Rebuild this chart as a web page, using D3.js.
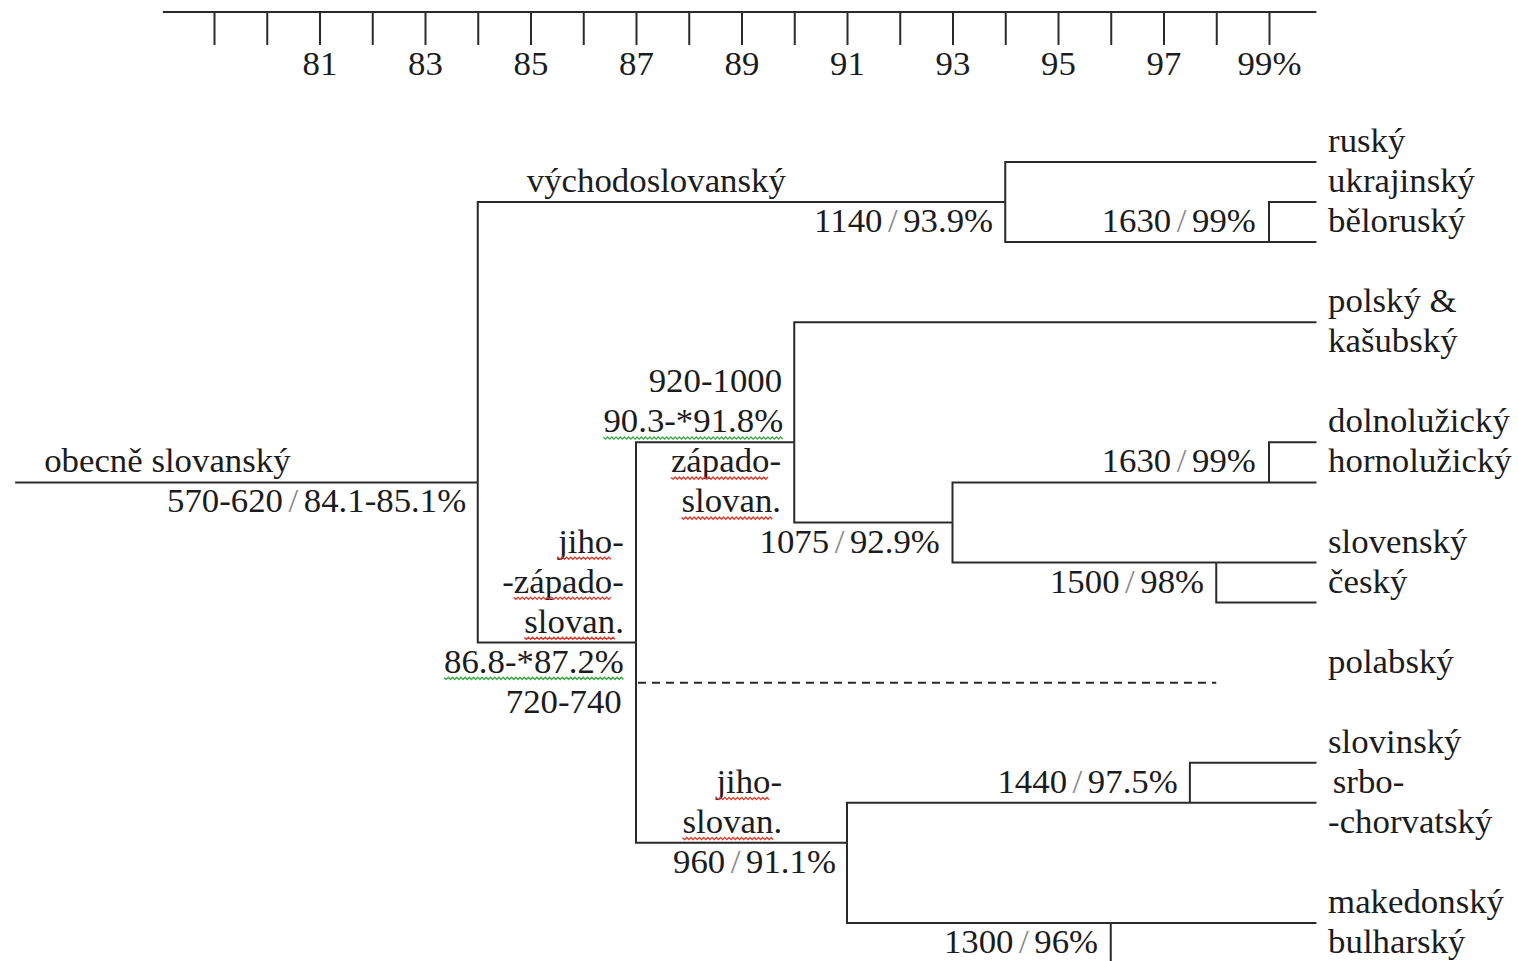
<!DOCTYPE html>
<html><head><meta charset="utf-8">
<script src="https://cdn.jsdelivr.net/npm/d3@7"></script>
<style>
html,body{margin:0;padding:0;background:#fff;}
svg{display:block;}
text{font-family:"Liberation Serif","Times New Roman",serif;font-size:33px;fill:#1c1c1c;}
</style></head>
<body>
<svg id="chart" width="1518" height="961"></svg>
<script>
// ---- axis data ----
const tickValues = [79,80,81,82,83,84,85,86,87,88,89,90,91,92,93,94,95,96,97,98,99];
const tickLabelValues = [81,83,85,87,89,91,93,95,97,99];
const tickLabelTexts = ["81","83","85","87","89","91","93","95","97","99%"];
const axisExtent = [78.03, 99.9];

// ---- tree data (position in % similarity, row index) ----
const nodeIds     = ["root","east","ub","jz","west","luzcs","luz","cs","south","sc","mb",
                     "rusky","ukrajinsky","belorusky","polsky","dolno","horno","slovensky","cesky","polabsky","slovinsky","srbochorv","makedonsky","bulharsky"];
const nodeParents = ["","root","east","root","jz","west","luzcs","luzcs","jz","south","south",
                     "east","ub","ub","west","luz","luz","cs","cs","jz","sc","sc","mb","mb"];
const nodeValues  = [84.0,94.0,99.0,87.0,90.0,93.0,99.0,98.0,91.0,97.5,96.0,
                     99.9,99.9,99.9,99.9,99.9,99.9,99.9,99.9,98.0,99.9,99.9,99.9,99.9];
const nodeRows    = [8,1,2,12,7,9,8,10,17,16,19,
                     0,1,2,4,7,8,10,11,13,15,16,19,20];
const dashedNodes = ["polabsky"];
const rootStart = 75.23;

// ---- leaf labels ----
const leafTexts = ["ruský","ukrajinský","běloruský","polský &","kašubský","dolnolužický","hornolužický","slovenský","český","polabský","slovinský","srbo-","-chorvatský","makedonský","bulharský"];
const leafRows  = [0,1,2,4,5,7,8,10,11,13,15,16,17,19,20];
const leafX = 100.12;
const leafIndent = [0,0,0,0,0,0,0,0,0,0,0,0.09,0,0,0];

// ---- inner labels ----
const innerTexts   = ["obecně slovanský","570-620 / 84.1-85.1%","východoslovanský","1140 / 93.9%","1630 / 99%",
                      "920-1000","90.3-*91.8%","západo-","slovan.","1075 / 92.9%","1630 / 99%","1500 / 98%",
                      "jiho-","-západo-","slovan.","86.8-*87.2%","720-740","jiho-","slovan.","960 / 91.1%","1440 / 97.5%","1300 / 96%"];
const innerRows    = [8,9,1,2,2, 6,7,8,9,10,8,11, 10,11,12,13,14,16,17,18,16,20];
const innerX       = [75.78,83.78,84.93,93.77,98.75, 89.77,89.79,89.75,89.75,92.76,98.75,97.77, 86.77,86.77,86.77,86.77,86.73,89.77,89.77,90.79,97.27,95.76];
const innerAnchor  = ["start","end","start","end","end", "end","end","end","end","end","end","end", "end","end","end","end","end","end","end","end","end","end"];
// wavy underline: colour, first char, last char (exclusive)
const waveColor = ["","","","","", "","green","red","red","","","", "red","red","red","green","","red","red","","",""];
const waveFrom  = [0,0,0,0,0, 0,0,0,0,0,0,0, 0,1,0,0,0,0,0,0,0,0];
const waveTo    = [0,0,0,0,0, 0,11,6,6,0,0,0, 4,7,6,11,0,4,6,0,0,0];

const svg = d3.select("#chart");
const x = d3.scaleLinear().domain([79,99]).range([214,1269]);
const y = d3.scaleLinear().domain([0,20]).range([162,963]);
const lineColor = "#2a2a2a";
const baselineOffset = -10;
const stretch = 1.055;

// ---- axis ----
const labelMap = new Map(tickLabelValues.map((v,i)=>[v,tickLabelTexts[i]]));
const axis = d3.axisBottom(x).tickValues(tickValues).tickSize(33).tickPadding(7)
  .tickFormat(d => labelMap.has(d) ? labelMap.get(d) : "");
const gAxis = svg.append("g").attr("transform","translate(0,12)").call(axis);
gAxis.select(".domain").attr("d", `M${x(axisExtent[0])},0H${x(axisExtent[1])}`)
  .attr("stroke", lineColor).attr("stroke-width",2);
gAxis.selectAll(".tick line").attr("stroke", lineColor).attr("stroke-width",2);
gAxis.selectAll(".tick text").attr("font-size",33).attr("font-family",null).attr("fill","#1c1c1c")
  .attr("transform", `scale(${stretch},1)`);

// ---- tree ----
const table = nodeIds.map((id,i)=>({id, parent: nodeParents[i] || null, value: nodeValues[i], row: nodeRows[i]}));
const root = d3.stratify().id(d=>d.id).parentId(d=>d.parent)(table);

const gTree = svg.append("g");
gTree.append("path")
  .attr("d", `M${x(rootStart)},${y(root.data.row)}H${x(root.data.value)}`)
  .attr("fill","none").attr("stroke",lineColor).attr("stroke-width",2);
gTree.selectAll("path.link").data(root.descendants().filter(d=>d.parent))
  .join("path").attr("class","link")
  .attr("d", d => `M${x(d.parent.data.value)},${y(d.parent.data.row)}V${y(d.data.row)}H${x(d.data.value)}`)
  .attr("fill","none").attr("stroke",lineColor).attr("stroke-width",2)
  .attr("stroke-dasharray", d => dashedNodes.includes(d.id) ? "8,6" : null);

// ---- leaf labels ----
svg.append("g").selectAll("g").data(leafTexts).join("g")
  .attr("transform", (d,i)=>`translate(${x(leafX + leafIndent[i])},${y(leafRows[i]) + baselineOffset}) scale(${stretch},1)`)
  .append("text").text(d=>d);

// ---- inner labels ----
function styledText(sel, str){
  const parts = str.split(" / ");
  if(parts.length === 2){
    sel.append("tspan").text(parts[0]);
    sel.append("tspan").attr("letter-spacing",-3).text("\u00a0");
    sel.append("tspan").attr("fill","#8a8a8a").text("/");
    sel.append("tspan").attr("letter-spacing",-3).text("\u00a0");
    sel.append("tspan").text(parts[1]);
  } else sel.text(str);
}
const gInner = svg.append("g");
innerTexts.forEach((t,i)=>{
  const g = gInner.append("g")
    .attr("transform", `translate(${x(innerX[i])},${y(innerRows[i]) + baselineOffset}) scale(${stretch},1)`);
  const el = g.append("text").attr("text-anchor", innerAnchor[i]);
  styledText(el, t);
  if(waveColor[i]){
    const node = el.node();
    const total = node.getComputedTextLength();
    const startX = innerAnchor[i]==="end" ? -total : 0;
    const x0 = startX + (waveFrom[i] ? node.getSubStringLength(0, waveFrom[i]) : 0);
    const x1 = startX + node.getSubStringLength(0, waveTo[i]);
    const yb = 5;
    const p = d3.path();
    p.moveTo(x0, yb);
    let k = 0;
    for(let xx = x0 + 2; xx <= x1; xx += 2, k++){
      p.lineTo(xx, yb + (k % 2 === 0 ? 1.8 : -0.4));
    }
    g.append("path").attr("d", p.toString()).attr("fill","none")
      .attr("stroke", waveColor[i]==="red" ? "#e0392b" : "#3aa845").attr("stroke-width",1.3);
  }
});
</script>
</body></html>
